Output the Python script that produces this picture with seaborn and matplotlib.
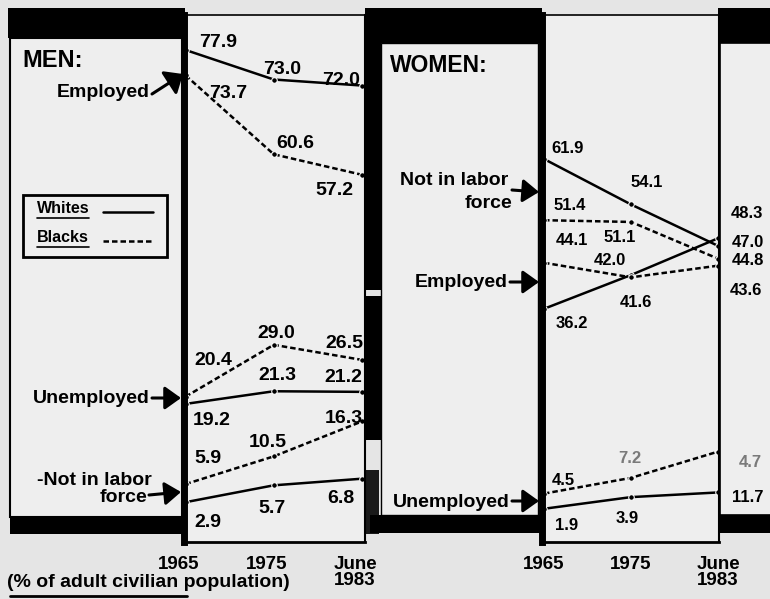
import seaborn as sns
import matplotlib.pyplot as plt
import pandas as pd
import numpy as np
from matplotlib.patches import Rectangle, FancyArrowPatch
from matplotlib.lines import Line2D
from matplotlib.transforms import ScaledTranslation

# data (% of adult civilian population)
years = ["1965", "1975", "June\n1983"]
men_emp_white = [77.9, 73.0, 72.0]
men_emp_black = [73.7, 60.6, 57.2]
men_unemp_white = [19.2, 21.3, 21.2]
men_unemp_black = [20.4, 29.0, 26.5]
men_nilf_white = [2.9, 5.7, 6.8]
men_nilf_black = [5.9, 10.5, 16.3]
women_nilf_white = [61.9, 54.1, 47.0]
women_nilf_black = [51.4, 51.1, 44.8]
women_emp_white = [36.2, 42.0, 48.3]
women_emp_black = [44.1, 41.6, 43.6]
women_unemp_white = [1.9, 3.9, 4.7]
women_unemp_black = [4.5, 7.2, 11.7]

# where the value labels sit (pixels, x center / baseline)
men_lbl = {
    "emp_w": [(218, 47), (282, 74), (341, 85)],
    "emp_b": [(228, 98), (295, 148), (334, 195)],
    "unemp_w": [(212, 425), (277, 380), (343, 382)],
    "unemp_b": [(213, 365), (276, 338), (344, 348)],
    "nilf_w": [(208, 527), (272, 513), (341, 503)],
    "nilf_b": [(208, 463), (268, 447), (344, 423)],
}
women_lbl = {
    "nilf_w": [(568, 153), (647, 187), (748, 247)],
    "nilf_b": [(570, 210), (620, 242), (748, 265)],
    "emp_w": [(572, 328), (610, 265), (747, 218)],
    "emp_b": [(572, 245), (636, 307), (746, 295)],
    "unemp_w": [(567, 530), (627, 523), (750, 467)],
    "unemp_b": [(563, 485), (630, 463), (748, 502)],
}

men = {
    "emp_w": ("Whites", men_emp_white), "emp_b": ("Blacks", men_emp_black),
    "unemp_w": ("Whites", men_unemp_white), "unemp_b": ("Blacks", men_unemp_black),
    "nilf_w": ("Whites", men_nilf_white), "nilf_b": ("Blacks", men_nilf_black),
}
women = {
    "nilf_w": ("Whites", women_nilf_white), "nilf_b": ("Blacks", women_nilf_black),
    "emp_w": ("Whites", women_emp_white), "emp_b": ("Blacks", women_emp_black),
    "unemp_w": ("Whites", women_unemp_white), "unemp_b": ("Blacks", women_unemp_black),
}


def long_df(series):
    rows = []
    for name, (race, vals) in series.items():
        for i, v in enumerate(vals):
            rows.append({"series": name, "race": race, "pos": i, "value": v})
    return pd.DataFrame(rows)


sns.set_style("white")
plt.rcParams['font.family'] = ['Liberation Sans', 'DejaVu Sans']
plt.rcParams['font.weight'] = 'bold'

W, H = 770, 599
BG = "#e5e5e5"
BOX = "#eeeeee"
fig = plt.figure(figsize=(W / 100, H / 100), dpi=100, facecolor=BG)


def fx(x):
    return x / W


def fy(y):
    return 1 - y / H


def rect(x0, y0, x1, y1, fc, ec="none", lw=0, z=-5):
    fig.add_artist(Rectangle((fx(x0), fy(y1)), (x1 - x0) / W, (y1 - y0) / H,
                             transform=fig.transFigure, fc=fc, ec=ec, lw=lw, zorder=z))


def txt(x, y, s, size=14, ha="left", color="black", **kw):
    fig.text(fx(x), fy(y), s, fontsize=size, ha=ha, va="baseline",
             fontweight="bold", color=color, zorder=6, **kw)


def arrow(x0, y0, x1, y1, hw=0.5):
    fig.add_artist(FancyArrowPatch((fx(x0), fy(y0)), (fx(x1), fy(y1)),
                                   transform=fig.transFigure,
                                   arrowstyle=f"-|>,head_length=0.7,head_width={hw}",
                                   mutation_scale=14, lw=2.2, color="black", zorder=7,
                                   shrinkA=0, shrinkB=0))


# decoration boxes
rect(8, 8, 185, 38, "black")
rect(10, 38, 182, 517, BOX, "black", 1.5)
rect(10, 517, 186, 534, "black")
rect(365, 8, 381, 290, "black")
rect(365, 296, 381, 440, "black")
rect(365, 470, 379, 534, "#1a1a1a")
rect(370, 8, 542, 43, "black")
rect(381, 43, 538, 515, BOX, "black", 1.0)
rect(370, 515, 542, 533, "black")
rect(718, 8, 772, 43, "black")
rect(720, 43, 772, 515, BOX, "black", 1.2)
rect(718, 515, 772, 533, "black")
fig.add_artist(Line2D([fx(10), fx(187)], [fy(596), fy(596)], transform=fig.transFigure,
                      color="black", lw=2))


def panel(left, right, data, xlim, ylim, tick_shift):
    ax = fig.add_axes([fx(left), fy(542), (right - left) / W, (542 - 15) / H])
    ax.set_facecolor(BOX)
    sns.lineplot(data=long_df(data), x="pos", y="value", units="series", style="race",
                 estimator=None, color="black", lw=1.8,
                 dashes={"Whites": "", "Blacks": (2.2, 1.2)},
                 markers={"Whites": "o", "Blacks": "o"}, markersize=4,
                 legend=False, ax=ax)
    ax.set_xlim(*xlim)
    ax.set_ylim(*ylim)
    ax.set_yticks([])
    ax.set_xticks(range(len(years)))
    ax.set_xticklabels(years, fontsize=13.5, fontweight="bold", linespacing=0.9, color="black")
    ax.tick_params(axis="x", length=0, pad=10, labelcolor="black")
    for lbl in ax.get_xticklabels():
        lbl.set_transform(lbl.get_transform() + ScaledTranslation(tick_shift / 100, 0, fig.dpi_scale_trans))
    ax.set_xlabel("")
    ax.set_ylabel("")
    for side, lw in [("left", 5), ("top", 1.2), ("right", 1.5), ("bottom", 2)]:
        ax.spines[side].set_visible(True)
        ax.spines[side].set_color("black")
        ax.spines[side].set_linewidth(lw)
    return ax


ax_m = panel(184, 365, men, (-0.017, 2.034), (-3.7, 83.7), -7)
ax_w = panel(542, 719, women, (-0.023, 2.011), (-3.8, 86.6), 0)

# value labels
for key, (race, vals) in men.items():
    for v, (x, y) in zip(vals, men_lbl[key]):
        txt(x, y, f"{v:.1f}", size=14, ha="center")
for key, (race, vals) in women.items():
    for v, (x, y) in zip(vals, women_lbl[key]):
        faint = f"{v:.1f}" in ("4.7", "7.2")
        txt(x, y, f"{v:.1f}", size=12, ha="center", color="#7a7a7a" if faint else "black")

# panel labels
txt(22, 67, "MEN:", size=17)
txt(150, 97, "Employed", ha="right")
arrow(152, 94, 183, 74, hw=0.6)
txt(150, 403, "Unemployed", ha="right")
arrow(152, 398, 181, 398)
txt(152, 485, "-Not in labor", ha="right")
txt(147, 502, "force", ha="right")
arrow(149, 495, 181, 492)

txt(390, 72, "WOMEN:", size=16.5)
txt(508, 185, "Not in labor", ha="right")
txt(512, 208, "force", ha="right")
arrow(512, 190, 539, 192)
txt(508, 287, "Employed", ha="right")
arrow(510, 282, 539, 282)
txt(510, 507, "Unemployed", ha="right")
arrow(512, 501, 539, 501)

txt(7, 587, "(% of adult civilian population)", size=14)

# legend
rect(23, 195, 167, 257, BOX, "black", 2, z=4)
txt(37, 213, "Whites", size=11.5)
txt(37, 242, "Blacks", size=11.5)
for y in (218, 247):
    fig.add_artist(Line2D([fx(37), fx(89)], [fy(y), fy(y)], transform=fig.transFigure,
                          color="black", lw=1.2, zorder=6))
fig.add_artist(Line2D([fx(103), fx(153)], [fy(212), fy(212)], transform=fig.transFigure,
                      color="black", lw=1.8, zorder=6))
fig.add_artist(Line2D([fx(103), fx(153)], [fy(241), fy(241)], transform=fig.transFigure,
                      color="black", lw=1.8, dashes=(2.2, 1.2), zorder=6))

plt.savefig("out.png", dpi=100, facecolor=BG)
